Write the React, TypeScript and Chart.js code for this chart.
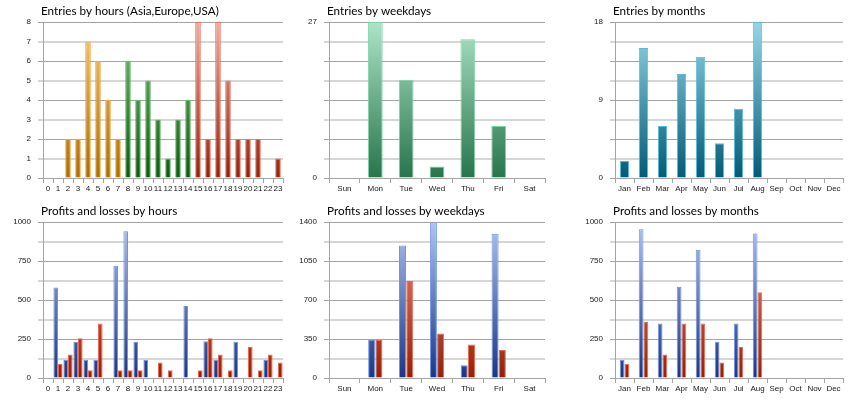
import { useEffect, useRef } from 'react'
import { Chart, registerables } from 'chart.js'

Chart.register(...registerables)

const hours = ['0', '1', '2', '3', '4', '5', '6', '7', '8', '9', '10', '11', '12', '13', '14', '15', '16', '17', '18', '19', '20', '21', '22', '23']
const weekdays = ['Sun', 'Mon', 'Tue', 'Wed', 'Thu', 'Fri', 'Sat']
const months = ['Jan', 'Feb', 'Mar', 'Apr', 'May', 'Jun', 'Jul', 'Aug', 'Sep', 'Oct', 'Nov', 'Dec']

// trading session for each hour
const hourSessions = [
  'asia', 'asia', 'asia', 'asia', 'asia', 'asia', 'asia', 'asia',
  'europe', 'europe', 'europe', 'europe', 'europe', 'europe', 'europe',
  'usa', 'usa', 'usa', 'usa', 'usa', 'usa', 'usa', 'usa', 'usa',
]

const entriesByHour = [0, 0, 2, 2, 7, 6, 4, 2, 6, 4, 5, 3, 1, 3, 4, 8, 2, 8, 5, 2, 2, 2, 0, 1]
const entriesByWeekday = [0, 27, 17, 2, 24, 9, 0]
const entriesByMonth = [2, 15, 6, 12, 14, 4, 8, 18, 0, 0, 0, 0]

const profitsByHour = [0, 580, 115, 233, 116, 116, 0, 720, 940, 233, 116, 0, 0, 0, 462, 0, 235, 116, 0, 233, 0, 0, 116, 0]
const lossesByHour = [0, 90, 150, 255, 50, 350, 0, 50, 50, 50, 0, 100, 50, 0, 0, 50, 255, 150, 50, 0, 200, 50, 150, 100]
const profitsByWeekday = [0, 345, 1190, 1395, 114, 1295, 0]
const lossesByWeekday = [0, 342, 870, 400, 300, 252, 0]
const profitsByMonth = [115, 953, 350, 585, 822, 233, 350, 927, 0, 0, 0, 0]
const lossesByMonth = [90, 360, 150, 350, 350, 100, 200, 550, 0, 0, 0, 0]

type Tone = { top: string; bottom: string; border: string }

const tones: Record<string, Tone> = {
  asia: { top: '#f8c878', bottom: '#b06c00', border: '#f0a838' },
  europe: { top: '#7cc47c', bottom: '#0c5c0c', border: '#60b860' },
  usa: { top: '#f4aa9c', bottom: '#962008', border: '#e47460' },
  mint: { top: '#acE4c8', bottom: '#27754b', border: '#7cd4a4' },
  teal: { top: '#98d6e6', bottom: '#005c78', border: '#54bcdc' },
  blue: { top: '#aec4f2', bottom: '#193686', border: '#7094e2' },
  red: { top: '#f2907e', bottom: '#962006', border: '#e86a52' },
}

function gradient(chart: Chart, tone: Tone) {
  const area = chart.chartArea
  if (!area) return tone.bottom
  const g = chart.ctx.createLinearGradient(0, area.top, 0, area.bottom)
  g.addColorStop(0, tone.top)
  g.addColorStop(1, tone.bottom)
  return g
}

interface Series {
  data: number[]
  tone: (i: number) => Tone
}

interface PanelProps {
  left: number
  top: number
  rightPad: number
  title: string
  labels: string[]
  series: Series[]
  max: number
  labelEvery: number
  catPct: number
  barPct: number
}

const W = 286
const H = 200
const GRID_DARK = '#a4a4a4'
const GRID_LIGHT = '#d6d6d6'
const TICK_FONT = { family: '"Liberation Sans", Arial, sans-serif', size: 8 }

function Panel({ left, top, rightPad, title, labels, series, max, labelEvery, catPct, barPct }: PanelProps) {
  const canvasRef = useRef<HTMLCanvasElement>(null)
  const chartRef = useRef<Chart | null>(null)

  useEffect(() => {
    if (!canvasRef.current) return
    if (chartRef.current) chartRef.current.destroy()
    const ctx = canvasRef.current.getContext('2d')
    if (!ctx) return

    const titlePlugin = {
      id: 'leftTitle',
      afterDraw(chart: Chart) {
        const c = chart.ctx
        c.save()
        c.font = '11.7px Lato, sans-serif'
        c.fillStyle = '#000'
        c.textBaseline = 'middle'
        c.textAlign = 'left'
        c.fillText(title, chart.chartArea.left - 2, 11)
        c.restore()
      },
    }

    chartRef.current = new Chart(ctx, {
      type: 'bar',
      data: {
        labels,
        datasets: series.map((s) => ({
          data: s.data,
          backgroundColor: (c: any) => gradient(c.chart, s.tone(c.dataIndex)),
          borderColor: (c: any) => s.tone(c.dataIndex).border,
          borderWidth: 1,
          categoryPercentage: catPct,
          barPercentage: barPct,
        })),
      },
      options: {
        responsive: false,
        animation: false,
        layout: { padding: { top: 22, right: rightPad, left: 0, bottom: 0 } },
        plugins: {
          legend: { display: false },
          tooltip: { enabled: false },
          title: { display: false },
        },
        scales: {
          x: {
            afterFit: (scale: any) => {
              scale.height = 22
            },
            grid: {
              offset: true,
              drawOnChartArea: false,
              drawTicks: true,
              tickLength: 5,
              color: GRID_DARK,
            },
            border: { color: GRID_DARK, width: 1 },
            ticks: {
              padding: 1,
              maxRotation: 0,
              autoSkip: false,
              color: '#1a1a1a',
              font: TICK_FONT,
            },
          },
          y: {
            min: 0,
            max,
            afterFit: (scale: any) => {
              scale.width = 43
            },
            afterBuildTicks: (scale: any) => {
              scale.ticks = [0, 1, 2, 3, 4, 5, 6, 7, 8].map((i) => ({ value: (max * i) / 8 }))
            },
            grid: {
              color: (c: any) => (c.index % 2 === 0 ? GRID_DARK : GRID_LIGHT),
              lineWidth: (c: any) => (c.index % 2 === 0 ? 1 : 2),
              tickLength: 5,
            },
            border: { color: GRID_DARK, width: 1 },
            ticks: {
              padding: 7,
              color: '#1a1a1a',
              font: TICK_FONT,
              callback: (_v: any, i: number) => (i % labelEvery === 0 ? String(Math.round((max * i) / 8)) : ''),
            },
          },
        },
      },
      plugins: [titlePlugin],
    })

    return () => {
      if (chartRef.current) {
        chartRef.current.destroy()
        chartRef.current = null
      }
    }
  }, [])

  return (
    <div style={{ position: 'absolute', left, top, width: W, height: H }}>
      <canvas ref={canvasRef} width={W} height={H} />
    </div>
  )
}

const sessionTone = (i: number) => tones[hourSessions[i]]
const fixed = (name: string) => () => tones[name]

export default function App() {
  return (
    <div style={{ position: 'absolute', left: 0, top: 0, width: 860, height: 400, background: '#fff' }}>
      <Panel left={0} top={0} rightPad={3} title="Entries by hours (Asia,Europe,USA)" labels={hours}
        series={[{ data: entriesByHour, tone: sessionTone }]} max={8} labelEvery={1} catPct={0.9} barPct={0.62} />
      <Panel left={286} top={0} rightPad={27} title="Entries by weekdays" labels={weekdays}
        series={[{ data: entriesByWeekday, tone: fixed('mint') }]} max={27} labelEvery={8} catPct={0.8} barPct={0.6} />
      <Panel left={572} top={0} rightPad={15} title="Entries by months" labels={months}
        series={[{ data: entriesByMonth, tone: fixed('teal') }]} max={18} labelEvery={4} catPct={0.8} barPct={0.62} />
      <Panel left={0} top={200} rightPad={3} title="Profits and losses by hours" labels={hours}
        series={[{ data: profitsByHour, tone: fixed('blue') }, { data: lossesByHour, tone: fixed('red') }]}
        max={1000} labelEvery={2} catPct={0.92} barPct={1} />
      <Panel left={286} top={200} rightPad={27} title="Profits and losses by weekdays" labels={weekdays}
        series={[{ data: profitsByWeekday, tone: fixed('blue') }, { data: lossesByWeekday, tone: fixed('red') }]}
        max={1400} labelEvery={2} catPct={0.47} barPct={0.97} />
      <Panel left={572} top={200} rightPad={15} title="Profits and losses by months" labels={months}
        series={[{ data: profitsByMonth, tone: fixed('blue') }, { data: lossesByMonth, tone: fixed('red') }]}
        max={1000} labelEvery={2} catPct={0.5} barPct={1} />
    </div>
  )
}
